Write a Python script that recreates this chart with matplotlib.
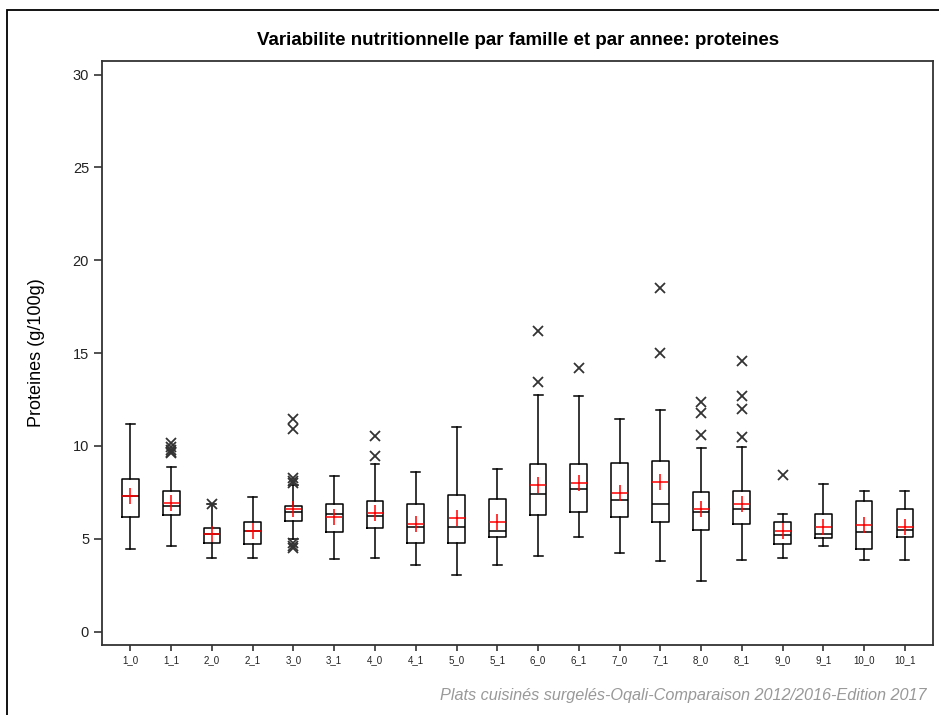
import matplotlib
matplotlib.use("Agg")
import matplotlib.pyplot as plt
from matplotlib.patches import Rectangle

plt.rcParams['font.family'] = ['Liberation Sans', 'DejaVu Sans']

# data (g/100g)
groups = ["1_0", "1_1", "2_0", "2_1", "3_0", "3_1", "4_0", "4_1", "5_0", "5_1",
          "6_0", "6_1", "7_0", "7_1", "8_0", "8_1", "9_0", "9_1", "10_0", "10_1"]
whislo = [4.46, 4.62, 3.98, 3.98, 5.00, 3.91, 3.98, 3.58, 3.03, 3.58,
          4.07, 5.11, 4.21, 3.82, 2.71, 3.84, 3.98, 4.62, 3.84, 3.84]
q1     = [6.15, 6.29, 4.78, 4.70, 5.97, 5.36, 5.57, 4.78, 4.78, 5.09,
          6.29, 6.45, 6.20, 5.88, 5.50, 5.82, 4.70, 5.02, 4.46, 5.09]
med    = [7.31, 6.79, 5.27, 5.41, 6.42, 6.33, 6.24, 5.66, 5.66, 5.43,
          7.42, 7.67, 7.10, 6.85, 6.45, 6.63, 5.23, 5.25, 5.36, 5.48]
q3     = [8.22, 7.58, 5.59, 5.90, 6.79, 6.86, 7.03, 6.86, 7.35, 7.17,
          9.03, 9.03, 9.09, 9.18, 7.51, 7.58, 5.90, 6.31, 7.01, 6.61]
whishi = [11.17, 8.87, 6.85, 7.26, 7.90, 8.39, 9.01, 8.60, 11.00, 8.78,
          12.74, 12.67, 11.47, 11.95, 9.87, 9.96, 6.31, 7.96, 7.56, 7.56]
means  = [7.30, 6.94, 5.27, 5.42, 6.60, 6.17, 6.38, 5.81, 6.11, 5.88,
          7.90, 7.99, 7.49, 8.06, 6.61, 6.88, 5.43, 5.65, 5.73, 5.66]
outliers = [[], [10.15, 9.95, 9.8, 9.7, 9.6], [6.87], [],
            [11.43, 10.9, 8.25, 8.1, 8.0, 4.8, 4.6, 4.5], [], [10.54, 9.46], [], [], [],
            [16.2, 13.46], [14.21], [], [18.49, 14.98], [12.38, 11.76, 10.61],
            [14.59, 12.69, 11.97, 10.5], [8.46], [], [], []]

stats = []
for i, g in enumerate(groups):
    stats.append(dict(label=g, whislo=whislo[i], q1=q1[i], med=med[i], q3=q3[i],
                      whishi=whishi[i], mean=means[i], fliers=outliers[i]))

fig = plt.figure(figsize=(9.39, 7.15), dpi=100)
ax = fig.add_axes([102.3 / 939, 1 - 645 / 715, (933 - 102.3) / 939, (645 - 60.7) / 715])

lw = 1.1
ax.bxp(stats, widths=0.41, capwidths=0.22, showmeans=True, patch_artist=False,
       boxprops=dict(color="black", linewidth=lw),
       whiskerprops=dict(color="black", linewidth=lw),
       capprops=dict(color="black", linewidth=lw),
       medianprops=dict(color="black", linewidth=lw),
       meanprops=dict(marker="+", markeredgecolor="red", markersize=11, markeredgewidth=1.1),
       flierprops=dict(marker="x", markeredgecolor="#333333", markersize=7.5, markeredgewidth=1.3))

ax.set_xlim(0.31, 20.69)
ax.set_ylim(-0.72, 30.75)
ax.set_yticks([0, 5, 10, 15, 20, 25, 30])
ax.tick_params(axis="y", labelsize=10.5, length=6, width=1.1, colors="#222222")
ax.tick_params(axis="x", labelsize=7, length=4, width=1.1, colors="#222222")
for s in ax.spines.values():
    s.set_linewidth(1.3)
    s.set_color("#333333")

ax.set_ylabel("Proteines (g/100g)", fontsize=13, labelpad=20)
ax.set_title("Variabilite nutritionnelle par famille et par annee: proteines",
             fontsize=13.5, fontweight="bold", pad=11)

fig.text(927 / 939, 1 - 700 / 715, "Plats cuisinés surgelés-Oqali-Comparaison 2012/2016-Edition 2017",
         ha="right", va="baseline", fontsize=11.7, style="italic", color="#999999")

# outer frame (runs off the right and bottom edge)
fig.patches.append(Rectangle((7 / 939, -0.05), 1.1, 1 - 10 / 715 + 0.05,
                             transform=fig.transFigure, fill=False,
                             edgecolor="black", linewidth=1.3))

fig.savefig("out.png", dpi=100)
